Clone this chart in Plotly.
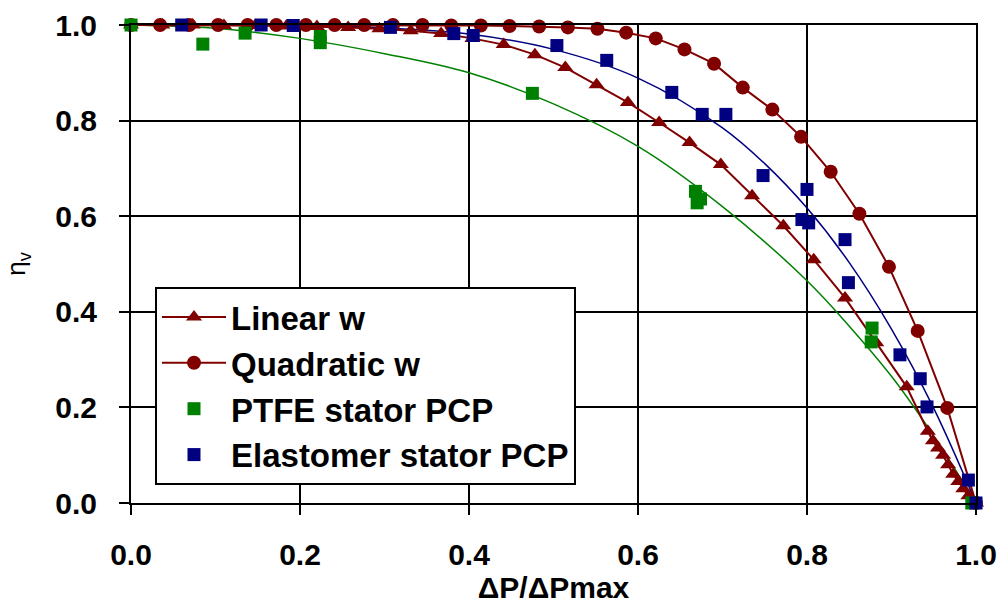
import plotly.graph_objects as go

# ---- data ----
linear_x = [0.0, 0.037, 0.073, 0.110, 0.147, 0.184, 0.220, 0.257, 0.294, 0.331,
            0.367, 0.404, 0.441, 0.478, 0.514, 0.551, 0.588, 0.625, 0.661, 0.698,
            0.735, 0.772, 0.808, 0.845, 0.882, 0.918, 0.943, 0.949, 0.955, 0.961,
            0.967, 0.973, 0.979, 0.985, 0.991, 1.0]
linear_y = [1.0, 1.0, 1.0, 0.999, 0.999, 0.998, 0.997, 0.995, 0.992, 0.988,
            0.982, 0.972, 0.959, 0.938, 0.911, 0.875, 0.838, 0.796, 0.754, 0.708,
            0.643, 0.580, 0.509, 0.429, 0.335, 0.243, 0.150, 0.130, 0.115, 0.100,
            0.080, 0.060, 0.045, 0.030, 0.015, 0.0]

quad_x = [0.0, 0.0345, 0.069, 0.103, 0.138, 0.172, 0.207, 0.241, 0.276, 0.310,
          0.345, 0.379, 0.414, 0.448, 0.483, 0.517, 0.552, 0.586, 0.621, 0.655,
          0.690, 0.724, 0.759, 0.793, 0.828, 0.862, 0.897, 0.931, 0.966, 1.0]
quad_y = [1.0, 1.0, 1.0, 1.0, 1.0, 1.0, 1.0, 1.0, 1.0, 1.0,
          1.0, 0.999, 0.999, 0.998, 0.997, 0.995, 0.992, 0.984, 0.972, 0.949,
          0.919, 0.869, 0.823, 0.766, 0.693, 0.605, 0.494, 0.360, 0.199, 0.0]

ptfe_x = [0.0, 0.085, 0.135, 0.224, 0.224, 0.475, 0.668, 0.670, 0.674, 0.877, 0.876, 0.995]
ptfe_y = [1.0, 0.960, 0.983, 0.976, 0.963, 0.857, 0.652, 0.628, 0.636, 0.366, 0.337, 0.0]

elast_x = [0.060, 0.154, 0.192, 0.307, 0.382, 0.405, 0.504, 0.563, 0.640, 0.676,
           0.704, 0.748, 0.800, 0.794, 0.802, 0.845, 0.849, 0.910, 0.934, 0.942,
           0.991, 1.0]
elast_y = [1.0, 1.0, 0.999, 0.995, 0.982, 0.978, 0.957, 0.926, 0.859, 0.813,
           0.813, 0.685, 0.656, 0.593, 0.586, 0.551, 0.461, 0.310, 0.260, 0.201,
           0.048, 0.0]

# fitted trend curves
ptfe_fit_x = [0.0, 0.1, 0.2, 0.3, 0.4, 0.5, 0.6, 0.7, 0.8, 0.85, 0.9, 0.95, 1.0]
ptfe_fit_y = [1.0, 0.993, 0.972, 0.940, 0.900, 0.835, 0.746, 0.620, 0.465, 0.370, 0.265, 0.140, 0.0]
elast_fit_x = [0.0, 0.1, 0.2, 0.3, 0.4, 0.5, 0.6, 0.7, 0.75, 0.8, 0.85, 0.9, 0.95, 1.0]
elast_fit_y = [1.0, 1.0, 0.999, 0.994, 0.981, 0.949, 0.889, 0.785, 0.710, 0.617, 0.503, 0.364, 0.198, 0.0]

x_ticks = [0.0, 0.2, 0.4, 0.6, 0.8, 1.0]
x_ticklabels = ["0.0", "0.2", "0.4", "0.6", "0.8", "1.0"]
y_ticks = [0.0, 0.2, 0.4, 0.6, 0.8, 1.0]
y_ticklabels = ["0.0", "0.2", "0.4", "0.6", "0.8", "1.0"]

MAROON = "#800000"
GREEN = "#008000"
NAVY = "#000080"
FONT = "Liberation Sans, Arial, sans-serif"

fig = go.Figure()

fig.add_trace(go.Scatter(x=ptfe_fit_x, y=ptfe_fit_y, mode="lines", line=dict(color=GREEN, width=1.5, shape="spline"),
                         showlegend=False, hoverinfo="skip", cliponaxis=False))
fig.add_trace(go.Scatter(x=elast_fit_x, y=elast_fit_y, mode="lines", line=dict(color=NAVY, width=1.5, shape="spline"),
                         showlegend=False, hoverinfo="skip", cliponaxis=False))

fig.add_trace(go.Scatter(x=linear_x, y=linear_y, mode="lines+markers", name="Linear w",
                         line=dict(color=MAROON, width=2),
                         marker=dict(symbol="triangle-up", size=14, color=MAROON),
                         cliponaxis=False))
fig.add_trace(go.Scatter(x=quad_x, y=quad_y, mode="lines+markers", name="Quadratic w",
                         line=dict(color=MAROON, width=2),
                         marker=dict(symbol="circle", size=14, color=MAROON),
                         cliponaxis=False))
fig.add_trace(go.Scatter(x=ptfe_x, y=ptfe_y, mode="markers", name="PTFE stator PCP",
                         marker=dict(symbol="square", size=13, color=GREEN),
                         cliponaxis=False))
fig.add_trace(go.Scatter(x=elast_x, y=elast_y, mode="markers", name="Elastomer stator PCP",
                         marker=dict(symbol="square", size=13, color=NAVY),
                         cliponaxis=False))

axis_common = dict(
    showgrid=True, gridcolor="black", gridwidth=2,
    showline=True, linecolor="black", linewidth=2, mirror=True,
    zeroline=False, ticks="outside", ticklen=10, tickwidth=2, tickcolor="black",
    automargin=False,
)

fig.update_xaxes(range=[0, 1], tickvals=x_ticks, ticktext=x_ticklabels,
                 tickfont=dict(family=FONT, size=30, color="black", weight="bold"),
                 title=dict(text="ΔP/ΔPmax", font=dict(family=FONT, size=30, color="black", weight="bold"),
                            standoff=4),
                 ticklabelstandoff=14,
                 **axis_common)
fig.update_yaxes(range=[0, 1], tickvals=y_ticks, ticktext=y_ticklabels,
                 tickfont=dict(family=FONT, size=30, color="black", weight="bold"),
                 title=dict(text="η<sub>v</sub>", font=dict(family=FONT, size=26, color="black"),
                            standoff=22),
                 ticklabelstandoff=16,
                 **axis_common)

fig.update_layout(
    width=1003, height=610,
    margin=dict(l=131, r=27, t=25, b=107),
    paper_bgcolor="white", plot_bgcolor="white",
    showlegend=True,
    legend=dict(x=0.0284, y=0.452, xanchor="left", yanchor="top",
                bgcolor="white", bordercolor="black", borderwidth=2,
                font=dict(family=FONT, size=33, color="black", weight="bold"),
                itemwidth=64, tracegroupgap=0),
)

fig.write_html("out.html")
